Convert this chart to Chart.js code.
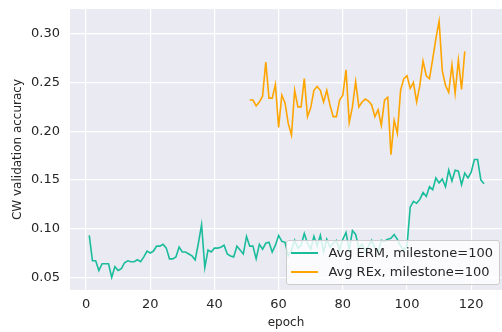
<!DOCTYPE html>
<html>
<head>
<meta charset="utf-8">
<script src="https://cdn.jsdelivr.net/npm/chart.js@4.4.0/dist/chart.umd.min.js"></script>
<style>
  body { margin: 0; background: #fff; }
  #wrap { position: relative; width: 502px; height: 332px; }
  #legend {
    position: absolute;
    background: rgba(255, 255, 255, 0.8);
    border: 1px solid #cccccc;
    border-radius: 3px;
    padding: 2px 6px 3px 3px;
    font: 13px "DejaVu Sans", sans-serif;
    color: #262626;
  }
  #legend .row { display: flex; align-items: center; height: 19px; line-height: 19px; white-space: nowrap; }
  #legend .swatch { width: 27px; height: 2px; margin: 0 10px 0 1px; }
</style>
</head>
<body>
<div id="wrap">
  <canvas id="accChart" width="502" height="332"></canvas>
  <div id="legend"></div>
</div>
<script>
// epochs 1..124
var ermFirstEpoch = 1;
var ermAcc = [
  0.093, 0.067, 0.067, 0.057, 0.064, 0.064, 0.064, 0.050, 0.061, 0.057,
  0.059, 0.065, 0.067, 0.066, 0.066, 0.068, 0.066, 0.071, 0.077, 0.075,
  0.077, 0.082, 0.082, 0.084, 0.080, 0.069, 0.069, 0.071, 0.081, 0.076,
  0.076, 0.074, 0.072, 0.068, 0.085, 0.104, 0.060, 0.078, 0.076, 0.080,
  0.080, 0.081, 0.083, 0.074, 0.072, 0.071, 0.082, 0.078, 0.074, 0.092,
  0.082, 0.082, 0.069, 0.084, 0.079, 0.085, 0.086, 0.076, 0.083, 0.093,
  0.087, 0.086, 0.072, 0.078, 0.088, 0.080, 0.083, 0.095, 0.085, 0.079,
  0.092, 0.082, 0.093, 0.076, 0.089, 0.081, 0.085, 0.088, 0.078, 0.089,
  0.096, 0.078, 0.098, 0.094, 0.080, 0.084, 0.077, 0.082, 0.088, 0.080,
  0.076, 0.088, 0.087, 0.089, 0.090, 0.094, 0.089, 0.082, 0.078, 0.082,
  0.122, 0.128, 0.126, 0.130, 0.137, 0.133, 0.143, 0.140, 0.152, 0.147,
  0.151, 0.143, 0.160, 0.149, 0.160, 0.159, 0.145, 0.157, 0.152, 0.158,
  0.171, 0.171, 0.150, 0.146
];

// epochs 51..118
var rexFirstEpoch = 51;
var rexAcc = [
  0.232, 0.232, 0.226, 0.230, 0.236, 0.271, 0.234, 0.234, 0.248, 0.204,
  0.237, 0.229, 0.208, 0.196, 0.242, 0.225, 0.225, 0.254, 0.215, 0.224,
  0.242, 0.246, 0.242, 0.230, 0.242, 0.227, 0.215, 0.215, 0.232, 0.237,
  0.263, 0.209, 0.225, 0.251, 0.225, 0.230, 0.233, 0.231, 0.227, 0.215,
  0.222, 0.206, 0.232, 0.235, 0.176, 0.211, 0.198, 0.242, 0.254, 0.257,
  0.244, 0.250, 0.230, 0.247, 0.272, 0.257, 0.254, 0.274, 0.295, 0.313,
  0.262, 0.247, 0.240, 0.268, 0.239, 0.273, 0.243, 0.282
];

var serieNames = ['Avg ERM, milestone=100', 'Avg REx, milestone=100'];
var serieColors = ['#1abc9c', '#ffa500'];
var xTicks = [0, 20, 40, 60, 80, 100, 120];
var yTicks = [0.05, 0.10, 0.15, 0.20, 0.25, 0.30];

function toPoints(first, valores) {
    var pts = [];
    for (var i = 0; i < valores.length; i++) {
        pts.push({ x: first + i, y: valores[i] });
    }
    return pts;
}

// grey panel behind the lines
var plotBackground = {
    id: 'plotBackground',
    beforeDraw: function (chart) {
        var a = chart.chartArea;
        var ctx = chart.ctx;
        ctx.save();
        ctx.fillStyle = '#eaeaf2';
        ctx.fillRect(a.left, a.top, a.right - a.left, a.bottom - a.top);
        ctx.restore();
    }
};

Chart.defaults.font.family = '"DejaVu Sans", sans-serif';
Chart.defaults.font.size = 12;
Chart.defaults.color = '#262626';

var accChart = new Chart(document.getElementById('accChart'), {
    type: 'line',
    data: {
        datasets: [{
            label: serieNames[0],
            data: toPoints(ermFirstEpoch, ermAcc),
            borderColor: serieColors[0],
            backgroundColor: serieColors[0],
            borderWidth: 1.6,
            pointRadius: 0,
            order: 2
        }, {
            label: serieNames[1],
            data: toPoints(rexFirstEpoch, rexAcc),
            borderColor: serieColors[1],
            backgroundColor: serieColors[1],
            borderWidth: 1.6,
            pointRadius: 0,
            order: 1
        }]
    },
    options: {
        responsive: false,
        animation: false,
        layout: { padding: { top: 9, right: 0, bottom: 0, left: 0 } },
        plugins: {
            legend: { display: false },
            tooltip: { enabled: false }
        },
        scales: {
            x: {
                type: 'linear',
                min: -5,
                max: 129.6,
                afterFit: function (scale) {
                    scale.height = 42;
                    scale.paddingLeft = 0;
                    scale.paddingRight = 0;
                },
                afterBuildTicks: function (scale) {
                    scale.ticks = xTicks.map(function (v) { return { value: v }; });
                },
                ticks: { padding: 7, includeBounds: false, font: { size: 13 } },
                grid: { color: '#ffffff', lineWidth: 1.2, drawTicks: false },
                border: { display: false },
                title: { display: true, text: 'epoch', padding: { top: 0, bottom: 2 } }
            },
            y: {
                min: 0.037,
                max: 0.3255,
                afterFit: function (scale) {
                    scale.width = 70;
                    scale.paddingTop = 0;
                    scale.paddingBottom = 0;
                },
                afterBuildTicks: function (scale) {
                    scale.ticks = yTicks.map(function (v) { return { value: v }; });
                },
                ticks: {
                    padding: 10,
                    font: { size: 13 },
                    callback: function (v) { return v.toFixed(2); }
                },
                grid: { color: '#ffffff', lineWidth: 1.2, drawTicks: false },
                border: { display: false },
                title: { display: true, text: 'CW validation accuracy', padding: { top: 11, bottom: 0 } }
            }
        }
    },
    plugins: [plotBackground]
});

// legend sits inside the plot, lower right
function montarLegenda(chart) {
    var box = document.getElementById('legend');
    var html = '';
    chart.data.datasets.forEach(function (ds) {
        html += '<div class="row"><span class="swatch" style="background:' + ds.borderColor + '"></span>' + ds.label + '</div>';
    });
    box.innerHTML = html;
    var a = chart.chartArea;
    box.style.right = (chart.width - a.right + 2) + 'px';
    box.style.bottom = (chart.height - a.bottom + 5) + 'px';
}
montarLegenda(accChart);
</script>
</body>
</html>
